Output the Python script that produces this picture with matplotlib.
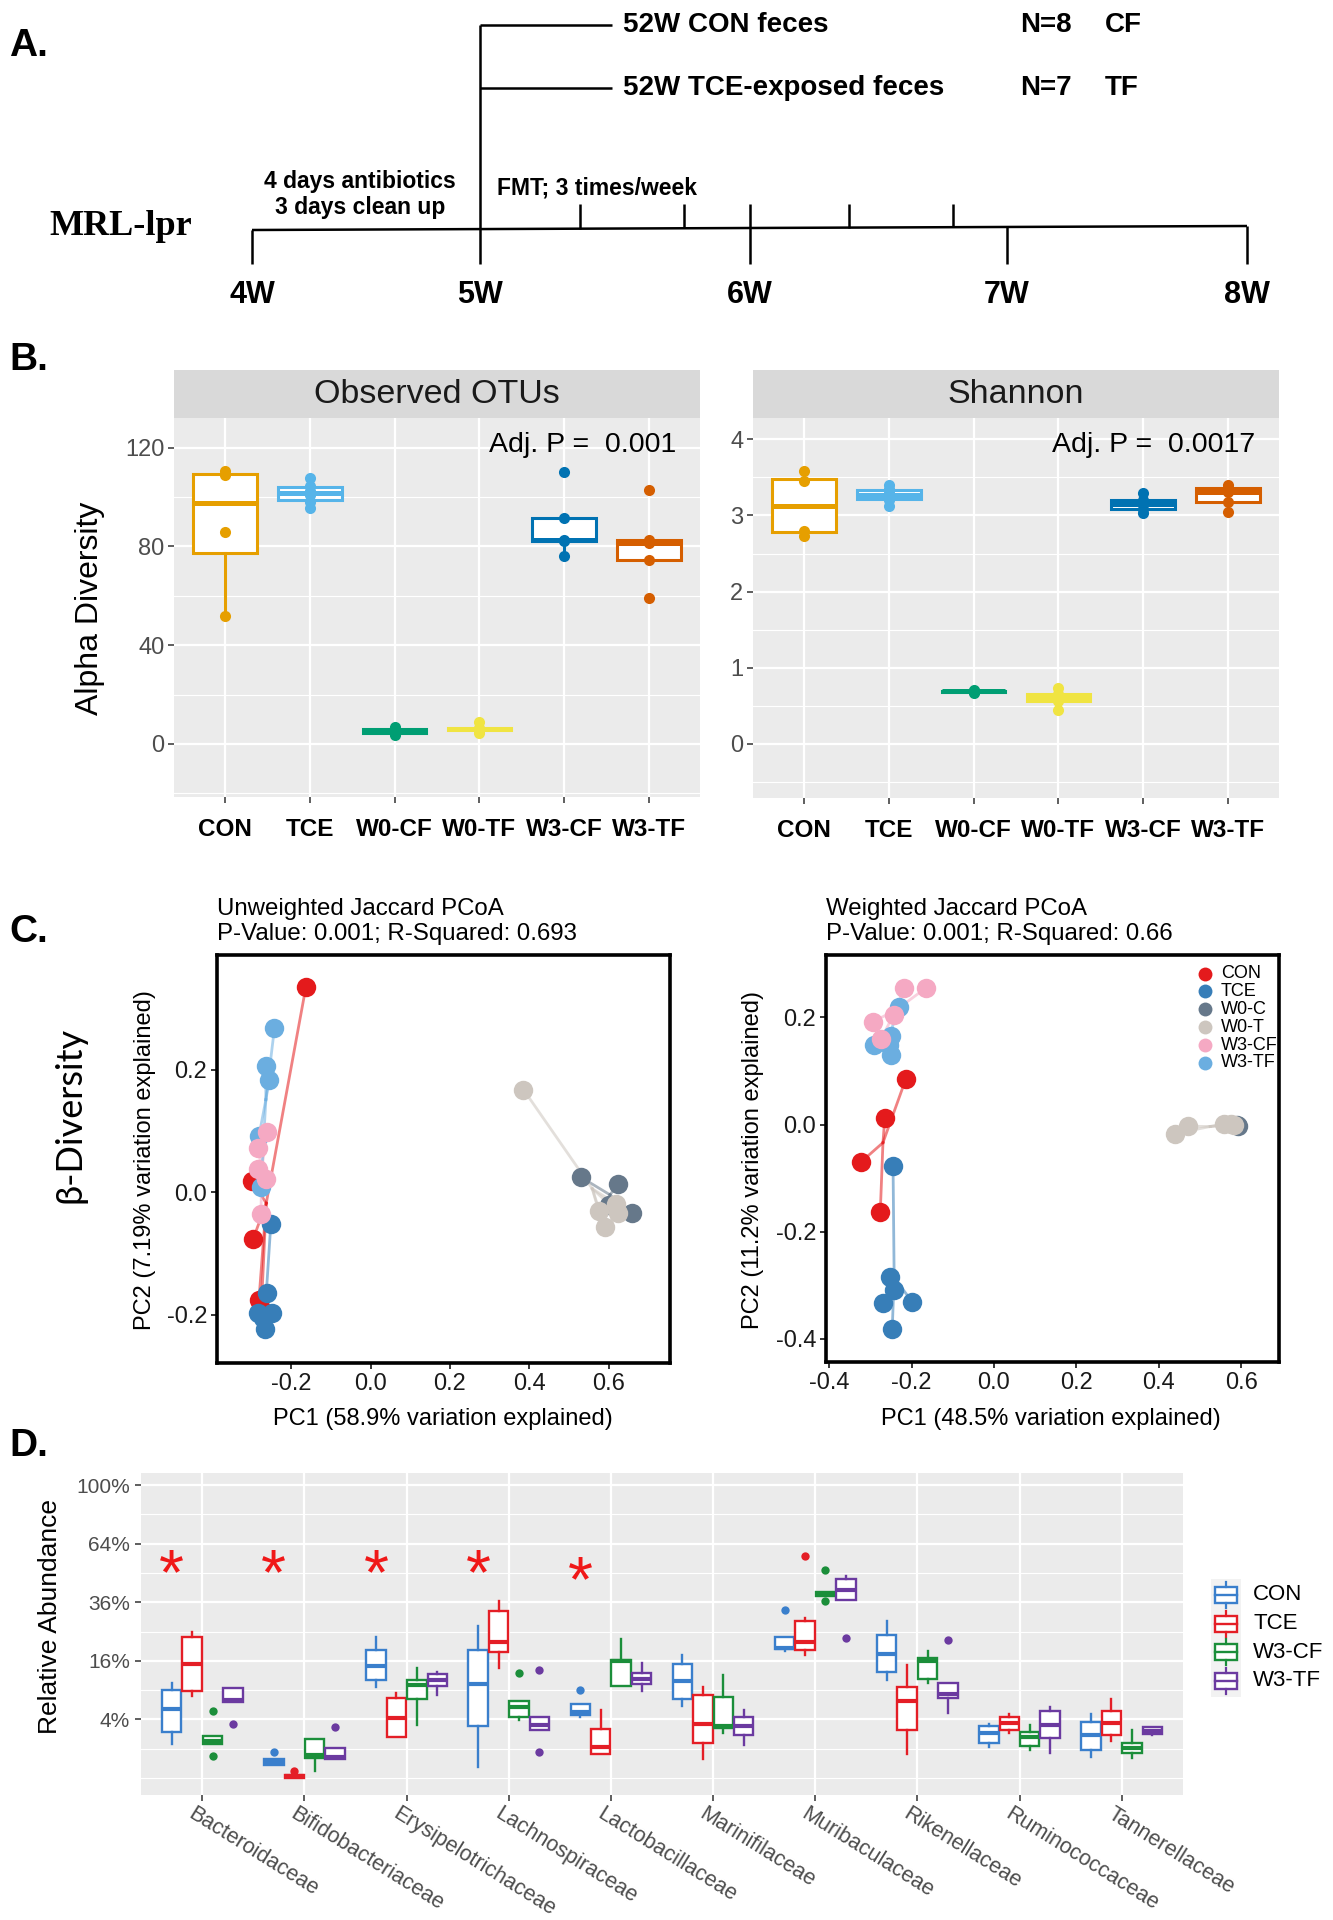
import numpy as np
import matplotlib
matplotlib.use('Agg')
import matplotlib.pyplot as plt
import matplotlib.transforms as mtransforms
from matplotlib.patches import Rectangle

plt.rcParams['font.family'] = ['Liberation Sans', 'DejaVu Sans']

# ================= DATA =================
# Panel A: study design
week_labels = ['4W', '5W', '6W', '7W', '8W']
donor_labels = ['52W CON feces', '52W TCE-exposed feces']
donor_sizes = ['N=8', 'N=7']
donor_codes = ['CF', 'TF']
pre_text = ['4 days antibiotics', '3 days clean up']
fmt_text = 'FMT; 3 times/week'
strain_label = 'MRL-lpr'

# Panel B: alpha diversity
alpha_groups = ['CON', 'TCE', 'W0-CF', 'W0-TF', 'W3-CF', 'W3-TF']
alpha_colors = ['#E69F00', '#56B4E9', '#009E73', '#F0E442', '#0072B2', '#D55E00']
observed_otus = [
    [52, 86, 109, 110.5],
    [95.5, 98, 101, 102.5, 104.5, 107.5],
    [3.5, 4.5, 5.5, 6, 7],
    [4.5, 5.5, 6, 6.5, 9],
    [76, 82, 82.5, 91.5, 110],
    [59, 74.5, 81.5, 82.5, 103],
]
shannon_index = [
    [2.73, 2.80, 3.45, 3.58],
    [3.13, 3.20, 3.25, 3.30, 3.35, 3.40],
    [0.67, 0.68, 0.69, 0.70, 0.71],
    [0.45, 0.56, 0.60, 0.65, 0.73],
    [3.03, 3.08, 3.15, 3.20, 3.30],
    [3.04, 3.18, 3.31, 3.36, 3.40],
]
alpha_titles = ['Observed OTUs', 'Shannon']
alpha_adj_p = ['0.001', '0.0017']

# Panel C: beta diversity (PCoA)
pcoa_groups = ['CON', 'TCE', 'W0-C', 'W0-T', 'W3-CF', 'W3-TF']
pcoa_colors = ['#E41A1C', '#377EB8', '#66788A', '#CDC6BF', '#F5A9C3', '#6BAEE0']
unw_pc1 = [
    [-0.163, -0.296, -0.281, -0.298, -0.275],
    [-0.251, -0.261, -0.283, -0.248, -0.265, -0.272],
    [0.529, 0.624, 0.658, 0.600],
    [0.385, 0.574, 0.619, 0.624, 0.590],
    [-0.261, -0.284, -0.284, -0.264, -0.276],
    [-0.242, -0.264, -0.255, -0.281, -0.276],
]
unw_pc2 = [
    [0.335, -0.077, -0.176, 0.019, -0.190],
    [-0.051, -0.164, -0.198, -0.198, -0.223, -0.205],
    [0.025, 0.013, -0.034, -0.020],
    [0.168, -0.030, -0.019, -0.033, -0.057],
    [0.098, 0.073, 0.038, 0.022, -0.036],
    [0.268, 0.206, 0.183, 0.092, 0.008],
]
w_pc1 = [
    [-0.214, -0.265, -0.323, -0.276],
    [-0.245, -0.252, -0.243, -0.269, -0.198, -0.247],
    [0.593, 0.590],
    [0.439, 0.470, 0.559, 0.583, 0.575],
    [-0.218, -0.165, -0.294, -0.243, -0.274],
    [-0.230, -0.292, -0.250, -0.250, -0.255],
]
w_pc2 = [
    [0.085, 0.013, -0.070, -0.163],
    [-0.078, -0.285, -0.308, -0.333, -0.331, -0.381],
    [-0.002, 0.000],
    [-0.017, -0.003, 0.001, 0.000, 0.001],
    [0.255, 0.255, 0.192, 0.205, 0.159],
    [0.220, 0.149, 0.165, 0.130, 0.149],
]
pcoa_titles = [('Unweighted Jaccard PCoA', 'P-Value: 0.001; R-Squared: 0.693'),
               ('Weighted Jaccard PCoA', 'P-Value: 0.001; R-Squared: 0.66')]
pc1_labels = ['PC1 (58.9% variation explained)', 'PC1 (48.5% variation explained)']
pc2_labels = ['PC2 (7.19% variation explained)', 'PC2 (11.2% variation explained)']

# Panel D: relative abundance (%) box statistics: (whisker low, Q1, median, Q3, whisker high)
families = ['Bacteroidaceae', 'Bifidobacteriaceae', 'Erysipelotrichaceae', 'Lachnospiraceae',
            'Lactobacillaceae', 'Marinifilaceae', 'Muribaculaceae', 'Rikenellaceae',
            'Ruminococcaceae', 'Tannerellaceae']
abund_groups = ['CON', 'TCE', 'W3-CF', 'W3-TF']
abund_colors = ['#3A7FCC', '#E41E26', '#1B8E3A', '#6B3AA0']
con_stats = [(1.35, 2.5, 5.56, 9.05, 10.6), (0.2, 0.2, 0.3, 0.4, 0.4), (9.7, 11.1, 14.7, 19.1, 23.3),
             (0.13, 3.2, 10.3, 19.1, 26.8), (4.3, 4.64, 5.0, 6.35, 6.35), (6.06, 7.3, 11.06, 15.2, 17.7),
             (18.9, 19.4, 19.8, 23.3, 23.3), (11.2, 13.2, 18.0, 23.7, 28.8), (1.14, 1.46, 2.33, 3.2, 3.4),
             (0.53, 0.92, 2.2, 3.7, 4.8)]
con_out = [[], [0.81], [], [], [9.05], [], [32.7], [], [], []]
tce_stats = [(7.9, 8.8, 15.1, 23.3, 25.0), (0.0, 0.0, 0.005, 0.012, 0.012), (2.0, 2.0, 4.16, 7.4, 8.5),
             (14.06, 18.6, 21.6, 32.3, 36.3), (0.67, 0.67, 1.14, 2.77, 5.4), (0.41, 1.46, 3.4, 8.05, 9.7),
             (17.7, 19.15, 21.7, 28.6, 29.8), (0.66, 2.7, 6.9, 9.7, 14.9), (2.33, 2.7, 3.5, 4.4, 4.8),
             (1.63, 2.16, 3.5, 5.3, 7.2)]
tce_out = [[], [0.05], [], [], [], [], [57.6], [], [], []]
w3cf_stats = [(1.35, 1.35, 1.6, 2.06, 2.06), (0.05, 0.48, 0.62, 1.75, 1.75), (3.28, 7.3, 10.1, 11.2, 14.06),
              (3.93, 4.4, 5.8, 6.98, 6.98), (9.9, 9.9, 16.0, 16.3, 22.5), (2.33, 2.89, 3.16, 7.6, 12.4),
              (38.4, 38.4, 39.3, 40.1, 40.1), (10.5, 11.4, 16.0, 16.7, 18.9), (0.92, 1.2, 1.94, 2.5, 3.3),
              (0.45, 0.71, 1.03, 1.4, 2.7)]
w3cf_out = [[5.3, 0.57], [], [], [12.8], [], [], [50.6, 36.3], [], [], []]
w3tf_stats = [(6.8, 6.8, 7.0, 9.4, 9.4), (0.4, 0.4, 0.5, 1.07, 1.07), (8.05, 9.9, 11.2, 12.6, 13.2),
              (2.69, 2.69, 3.3, 4.3, 4.3), (8.9, 10.25, 11.5, 12.96, 15.5), (1.27, 2.16, 3.16, 4.3, 5.4),
              (37.0, 37.0, 41.3, 46.2, 47.4), (4.9, 7.4, 8.2, 10.5, 10.5), (0.75, 1.84, 3.3, 5.3, 5.84),
              (2.2, 2.26, 2.6, 3.0, 3.05)]
w3tf_out = [[3.4], [3.08], [], [13.6, 0.81], [], [], [22.8], [22.3], [], []]
abund_stats = [con_stats, tce_stats, w3cf_stats, w3tf_stats]
abund_out = [con_out, tce_out, w3cf_out, w3tf_out]
abund_ticks = [4, 16, 36, 64, 100]
sig_families = ['Bacteroidaceae', 'Bifidobacteriaceae', 'Erysipelotrichaceae', 'Lachnospiraceae', 'Lactobacillaceae']
sig_star_level = [47, 47, 47, 47, 43.6]

# ================= FIGURE =================
W, H = 1333, 1920
fig = plt.figure(figsize=(W / 100, H / 100), dpi=100)
fig.patch.set_facecolor('white')


def px_axes(x0, y0, x1, y1, **kw):
    return fig.add_axes([x0 / W, 1 - y1 / H, (x1 - x0) / W, (y1 - y0) / H], **kw)


ov = fig.add_axes([0, 0, 1, 1], zorder=20)
ov.set_xlim(0, W)
ov.set_ylim(H, 0)
ov.axis('off')

# ---------------- Panel A ----------------
lk = dict(color='black', lw=1.8, solid_capstyle='butt')
tl_x0, tl_x1, tl_y0, tl_y1 = 252, 1247, 230, 226
week_x = [252, 480, 750, 1007, 1247]
fmt_x = [580, 684, 849, 953]


def tl_y(x):
    return tl_y0 + (tl_y1 - tl_y0) * (x - tl_x0) / (tl_x1 - tl_x0)


ov.plot([tl_x0, tl_x1], [tl_y0, tl_y1], **lk)
for x in week_x:
    ov.plot([x, x], [tl_y(x), 264], **lk)
ov.plot([480, 480], [25, tl_y(480)], **lk)
ov.plot([750, 750], [204, tl_y(750)], **lk)
for x in fmt_x:
    ov.plot([x, x], [204, tl_y(x)], **lk)
for y in [25, 88]:
    ov.plot([480, 612], [y, y], **lk)

bA = dict(fontweight='bold', color='black')
ov.text(9, 56, 'A.', fontsize=28, **bA)
for lab, n, code, base in zip(donor_labels, donor_sizes, donor_codes, [32, 95]):
    ov.text(623, base, lab, fontsize=20, va='baseline', **bA)
    ov.text(1020, base, n, fontsize=20, va='baseline', **bA)
    ov.text(1105, base, code, fontsize=20, va='baseline', **bA)
ov.text(360, 188, pre_text[0], fontsize=16.5, ha='center', va='baseline', **bA)
ov.text(360, 214, pre_text[1], fontsize=16.5, ha='center', va='baseline', **bA)
ov.text(497, 195, fmt_text, fontsize=16.5, ha='left', va='baseline', **bA)
ov.text(49, 235, strain_label, fontsize=26, ha='left', va='baseline', fontweight='bold',
        family=['Liberation Serif', 'DejaVu Serif'])
for lab, x in zip(week_labels, week_x):
    ov.text(x, 303, lab, fontsize=22, ha='center', va='baseline', **bA)

# ---------------- Panel B ----------------
ov.text(9, 370, 'B.', fontsize=28, **bA)


def gg_panel(ax):
    ax.set_facecolor('#EBEBEB')
    for s in ax.spines.values():
        s.set_visible(False)
    ax.grid(True, which='major', color='white', lw=1.6)
    ax.grid(True, which='minor', color='white', lw=0.8)
    ax.set_axisbelow(True)
    ax.tick_params(which='major', length=4, width=1.1, color='#333333', labelcolor='#4D4D4D')
    ax.tick_params(which='minor', length=0)


def alpha_panel(ax, strip, data, title, pval, ylim, yticks, yminor):
    gg_panel(ax)
    for i, (vals, col) in enumerate(zip(data, alpha_colors)):
        pos = i + 1
        ax.boxplot([vals], positions=[pos], widths=0.75, patch_artist=True, showfliers=False,
                   showcaps=False, manage_ticks=False, zorder=3,
                   boxprops=dict(facecolor='white', edgecolor=col, linewidth=2.2),
                   medianprops=dict(color=col, linewidth=3.6, solid_capstyle='butt'),
                   whiskerprops=dict(color=col, linewidth=2.2))
        ax.plot([pos] * len(vals), vals, 'o', color=col, ms=8, mew=0, zorder=4)
    ax.set_xlim(0.4, 6.6)
    ax.set_ylim(*ylim)
    ax.set_yticks(yticks)
    ax.set_yticks(yminor, minor=True)
    ax.set_xticks(range(1, 7))
    ax.set_xticklabels(alpha_groups, fontweight='bold', color='black', fontsize=17.5)
    ax.tick_params(axis='x', pad=11)
    ax.tick_params(axis='y', labelsize=17, pad=3)
    ax.text(0.955, 0.93, 'Adj. P =  ' + pval, transform=ax.transAxes, ha='right',
            va='center', fontsize=20.5, color='black')
    strip.set_facecolor('#D9D9D9')
    strip.set_xticks([])
    strip.set_yticks([])
    for s in strip.spines.values():
        s.set_visible(False)
    strip.text(0.5, 0.48, title, ha='center', va='center', fontsize=24.5, color='#1A1A1A',
               transform=strip.transAxes)


axBL = px_axes(174, 418, 700, 797)
stBL = px_axes(174, 370, 700, 418)
alpha_panel(axBL, stBL, observed_otus, alpha_titles[0], alpha_adj_p[0], (-21.5, 132),
            [0, 40, 80, 120], [-20, 20, 60, 100])
axBR = px_axes(753, 418, 1279, 798)
stBR = px_axes(753, 370, 1279, 418)
alpha_panel(axBR, stBR, shannon_index, alpha_titles[1], alpha_adj_p[1], (-0.71, 4.28),
            [0, 1, 2, 3, 4], [-0.5, 0.5, 1.5, 2.5, 3.5])
ov.text(90, 608, 'Alpha Diversity', rotation=90, ha='center', va='center', fontsize=23, color='black')

# ---------------- Panel C ----------------
ov.text(9, 942, 'C.', fontsize=28, **bA)
ov.text(70, 1115, 'β-Diversity', rotation=90, ha='center', va='center', fontsize=26,
        family=['Lato', 'DejaVu Sans'], color='black')

draw_order = [0, 1, 2, 3, 5, 4]


def pcoa_panel(ax, pc1, pc2, xlim, ylim, xticks, yticks):
    ax.set_xlim(*xlim)
    ax.set_ylim(*ylim)
    for s in ax.spines.values():
        s.set_linewidth(2.6)
        s.set_color('black')
    ax.set_xticks(xticks)
    ax.set_yticks(yticks)
    ax.set_xticklabels(['%.1f' % t for t in xticks])
    ax.set_yticklabels(['%.1f' % t for t in yticks])
    ax.tick_params(length=4, width=1.1, color='black', labelsize=17, labelcolor='#1A1A1A', pad=3)
    for k in range(len(pcoa_groups)):
        cx, cy = np.mean(pc1[k]), np.mean(pc2[k])
        for x, y in zip(pc1[k], pc2[k]):
            ax.plot([cx, x], [cy, y], color=pcoa_colors[k], lw=2.0, alpha=0.55, zorder=2)
    for z, k in enumerate(draw_order):
        ax.plot(pc1[k], pc2[k], 'o', color=pcoa_colors[k], ms=14, mew=0, zorder=3 + z)


axCL = px_axes(217, 955, 670, 1363)
pcoa_panel(axCL, unw_pc1, unw_pc2, (-0.3866, 0.754), (-0.279, 0.388),
           [-0.2, 0.0, 0.2, 0.4, 0.6], [-0.2, 0.0, 0.2])
axCR = px_axes(826, 955, 1279, 1362)
pcoa_panel(axCR, w_pc1, w_pc2, (-0.4078, 0.692), (-0.443, 0.3164),
           [-0.4, -0.2, 0.0, 0.2, 0.4, 0.6], [-0.4, -0.2, 0.0, 0.2])

for (t1, t2), x0 in zip(pcoa_titles, [217, 826]):
    ov.text(x0, 915, t1, fontsize=17.3, va='baseline', color='black')
    ov.text(x0, 940, t2, fontsize=17.3, va='baseline', color='black')
for lab, xc in zip(pc1_labels, [443, 1051]):
    ov.text(xc, 1425, lab, fontsize=17, ha='center', va='baseline', color='black')
for lab, xc in zip(pc2_labels, [145, 753]):
    ov.text(xc, 1160, lab, fontsize=17, ha='center', va='center', rotation=90, color='black')

# PCoA legend (weighted panel)
leg_y = [973.6, 991.4, 1009.3, 1027.1, 1045.0, 1062.9]
for k, (g, c) in enumerate(zip(pcoa_groups, pcoa_colors)):
    ov.plot([1204.6], [leg_y[k]], 'o', color=c, ms=10, mew=0)
    ov.text(1220.8, leg_y[k], g, fontsize=13, va='center', ha='left', color='black')

# ---------------- Panel D ----------------
ov.text(9, 1456, 'D.', fontsize=28, **bA)
axD = px_axes(141, 1473, 1183, 1795)
gg_panel(axD)
axD.set_xlim(0.4, 10.6)
axD.set_ylim(-0.058, 1.041)
axD.set_yticks(np.sqrt(np.array(abund_ticks) / 100.0))
axD.set_yticklabels(['%d%%' % t for t in abund_ticks])
axD.set_yticks([0.0, 0.1, 0.3, 0.5, 0.7, 0.9], minor=True)
axD.set_xticks(range(1, 11))
axD.set_xticklabels([''] * 10)
axD.tick_params(axis='y', labelsize=15, pad=4)
axD.tick_params(axis='x', length=4)

offsets = [-0.3, -0.1, 0.1, 0.3]
for g, (stats_g, outs_g, col, off) in enumerate(zip(abund_stats, abund_out, abund_colors, offsets)):
    bstats = []
    for (lo, q1, med, q3, hi), fl in zip(stats_g, outs_g):
        bstats.append(dict(whislo=np.sqrt(lo / 100), q1=np.sqrt(q1 / 100), med=np.sqrt(med / 100),
                           q3=np.sqrt(q3 / 100), whishi=np.sqrt(hi / 100),
                           fliers=np.sqrt(np.array(fl, dtype=float) / 100)))
    axD.bxp(bstats, positions=np.arange(1, 11) + off, widths=0.19, patch_artist=True,
            showcaps=False, showfliers=True, manage_ticks=False, zorder=3,
            boxprops=dict(facecolor='white', edgecolor=col, linewidth=1.7),
            medianprops=dict(color=col, linewidth=3.0, solid_capstyle='butt'),
            whiskerprops=dict(color=col, linewidth=1.7),
            flierprops=dict(marker='o', markerfacecolor=col, markeredgecolor=col, markersize=6,
                            markeredgewidth=0))

for fam, lvl in zip(sig_families, sig_star_level):
    xi = families.index(fam) + 1 + offsets[0]
    axD.text(xi, np.sqrt(lvl / 100), '*', color='#F01818', fontsize=46, ha='center', va='center',
             zorder=5)

lab_trans = mtransforms.blended_transform_factory(axD.transData, axD.transAxes) + \
    mtransforms.ScaledTranslation(-6.5 / 100, -8 / 100, fig.dpi_scale_trans)
for i, fam in enumerate(families):
    axD.text(i + 1, 0, fam, transform=lab_trans, rotation=-32, rotation_mode='anchor',
             ha='left', va='top', fontsize=15.5, color='#4D4D4D', clip_on=False)

ov.text(50, 1617, 'Relative Abundance', rotation=90, ha='center', va='center', fontsize=19,
        color='black')

# legend for panel D
ov.add_patch(Rectangle((1211, 1579), 30, 118, facecolor='#F2F2F2', edgecolor='none'))
row_y = [1595, 1623.6, 1652, 1681]
for g, c, cy in zip(abund_groups, abund_colors, row_y):
    ov.plot([1226, 1226], [cy - 13, cy - 8], color=c, lw=1.6)
    ov.plot([1226, 1226], [cy + 8, cy + 13], color=c, lw=1.6)
    ov.add_patch(Rectangle((1215, cy - 8), 22, 16, facecolor='white', edgecolor=c, lw=1.7))
    ov.plot([1215, 1237], [cy, cy], color=c, lw=1.7)
    ov.text(1253, cy, g, fontsize=16, va='center', ha='left', color='black')

fig.savefig('out.png', dpi=100, facecolor='white')
